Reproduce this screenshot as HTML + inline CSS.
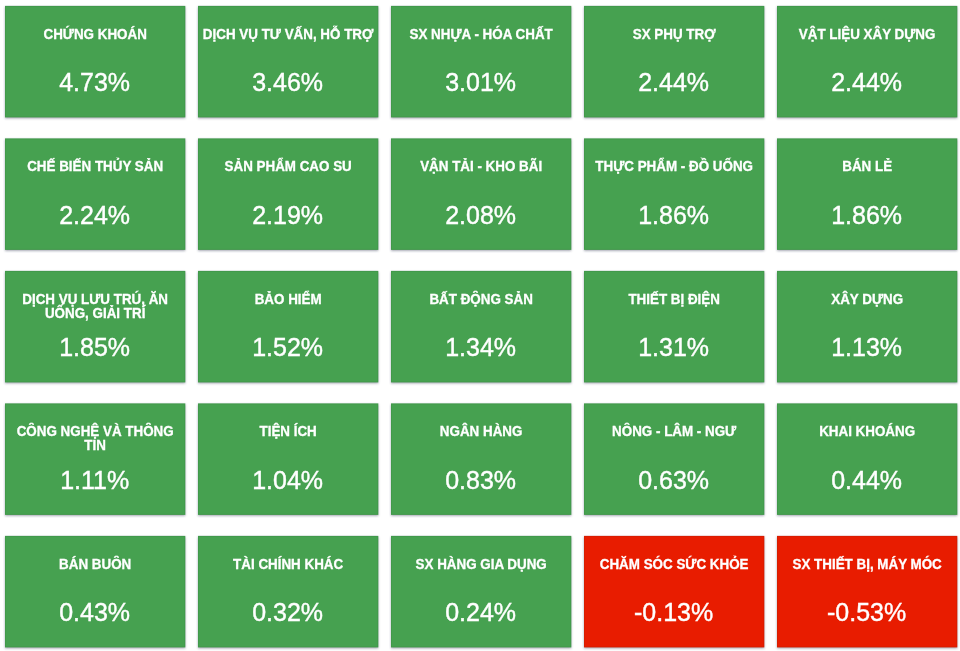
<!DOCTYPE html>
<html lang="vi"><head><meta charset="utf-8"><title>Biến động ngành</title>
<style>
html,body{margin:0;padding:0;background:#fff;}
body{width:960px;height:651px;position:relative;overflow:hidden;font-family:"Liberation Sans",sans-serif;color:#fff;}
#bg{position:absolute;left:0;top:0;width:960px;height:651px;display:block;}
.c{position:absolute;width:180.3px;height:111.5px;text-align:center;}
.t{will-change:transform;position:absolute;left:0;right:0;top:21.8px;font-weight:bold;font-size:13.4px;line-height:13.5px;white-space:nowrap;-webkit-text-stroke:.3px #fff;transform:scaleY(1.03);transform-origin:50% 12px;}
.v{will-change:transform;position:absolute;left:0;right:1px;top:62.6px;font-size:25px;line-height:28px;white-space:nowrap;-webkit-text-stroke:.4px #fff;transform:scaleY(1.06);transform-origin:50% 23px;}
</style></head><body>
<svg id="bg" width="960" height="651" viewBox="0 0 960 651">
<defs><filter id="s" x="0" y="0" width="960" height="651" filterUnits="userSpaceOnUse"><feGaussianBlur stdDeviation="1.3"/></filter></defs>
<g filter="url(#s)" fill="#373c5a" fill-opacity=".46">
<rect x="5.00" y="6.90" width="180.30" height="111.50"/>
<rect x="198.00" y="6.90" width="180.30" height="111.50"/>
<rect x="391.00" y="6.90" width="180.30" height="111.50"/>
<rect x="584.00" y="6.90" width="180.30" height="111.50"/>
<rect x="777.00" y="6.90" width="180.30" height="111.50"/>
<rect x="5.00" y="139.40" width="180.30" height="111.50"/>
<rect x="198.00" y="139.40" width="180.30" height="111.50"/>
<rect x="391.00" y="139.40" width="180.30" height="111.50"/>
<rect x="584.00" y="139.40" width="180.30" height="111.50"/>
<rect x="777.00" y="139.40" width="180.30" height="111.50"/>
<rect x="5.00" y="271.90" width="180.30" height="111.50"/>
<rect x="198.00" y="271.90" width="180.30" height="111.50"/>
<rect x="391.00" y="271.90" width="180.30" height="111.50"/>
<rect x="584.00" y="271.90" width="180.30" height="111.50"/>
<rect x="777.00" y="271.90" width="180.30" height="111.50"/>
<rect x="5.00" y="404.40" width="180.30" height="111.50"/>
<rect x="198.00" y="404.40" width="180.30" height="111.50"/>
<rect x="391.00" y="404.40" width="180.30" height="111.50"/>
<rect x="584.00" y="404.40" width="180.30" height="111.50"/>
<rect x="777.00" y="404.40" width="180.30" height="111.50"/>
<rect x="5.00" y="536.90" width="180.30" height="111.50"/>
<rect x="198.00" y="536.90" width="180.30" height="111.50"/>
<rect x="391.00" y="536.90" width="180.30" height="111.50"/>
<rect x="584.00" y="536.90" width="180.30" height="111.50"/>
<rect x="777.00" y="536.90" width="180.30" height="111.50"/>
</g>
<g fill="#46a150">
<rect x="5.00" y="5.90" width="180.30" height="111.50"/>
<rect x="198.00" y="5.90" width="180.30" height="111.50"/>
<rect x="391.00" y="5.90" width="180.30" height="111.50"/>
<rect x="584.00" y="5.90" width="180.30" height="111.50"/>
<rect x="777.00" y="5.90" width="180.30" height="111.50"/>
<rect x="5.00" y="138.40" width="180.30" height="111.50"/>
<rect x="198.00" y="138.40" width="180.30" height="111.50"/>
<rect x="391.00" y="138.40" width="180.30" height="111.50"/>
<rect x="584.00" y="138.40" width="180.30" height="111.50"/>
<rect x="777.00" y="138.40" width="180.30" height="111.50"/>
<rect x="5.00" y="270.90" width="180.30" height="111.50"/>
<rect x="198.00" y="270.90" width="180.30" height="111.50"/>
<rect x="391.00" y="270.90" width="180.30" height="111.50"/>
<rect x="584.00" y="270.90" width="180.30" height="111.50"/>
<rect x="777.00" y="270.90" width="180.30" height="111.50"/>
<rect x="5.00" y="403.40" width="180.30" height="111.50"/>
<rect x="198.00" y="403.40" width="180.30" height="111.50"/>
<rect x="391.00" y="403.40" width="180.30" height="111.50"/>
<rect x="584.00" y="403.40" width="180.30" height="111.50"/>
<rect x="777.00" y="403.40" width="180.30" height="111.50"/>
<rect x="5.00" y="535.90" width="180.30" height="111.50"/>
<rect x="198.00" y="535.90" width="180.30" height="111.50"/>
<rect x="391.00" y="535.90" width="180.30" height="111.50"/>
</g>
<g fill="#e81c00">
<rect x="584.00" y="535.90" width="180.30" height="111.50"/>
<rect x="777.00" y="535.90" width="180.30" height="111.50"/>
</g>
<g fill="none" stroke="#003200" stroke-opacity=".07" stroke-width="1">
<rect x="5.50" y="6.40" width="179.30" height="110.50"/>
<rect x="198.50" y="6.40" width="179.30" height="110.50"/>
<rect x="391.50" y="6.40" width="179.30" height="110.50"/>
<rect x="584.50" y="6.40" width="179.30" height="110.50"/>
<rect x="777.50" y="6.40" width="179.30" height="110.50"/>
<rect x="5.50" y="138.90" width="179.30" height="110.50"/>
<rect x="198.50" y="138.90" width="179.30" height="110.50"/>
<rect x="391.50" y="138.90" width="179.30" height="110.50"/>
<rect x="584.50" y="138.90" width="179.30" height="110.50"/>
<rect x="777.50" y="138.90" width="179.30" height="110.50"/>
<rect x="5.50" y="271.40" width="179.30" height="110.50"/>
<rect x="198.50" y="271.40" width="179.30" height="110.50"/>
<rect x="391.50" y="271.40" width="179.30" height="110.50"/>
<rect x="584.50" y="271.40" width="179.30" height="110.50"/>
<rect x="777.50" y="271.40" width="179.30" height="110.50"/>
<rect x="5.50" y="403.90" width="179.30" height="110.50"/>
<rect x="198.50" y="403.90" width="179.30" height="110.50"/>
<rect x="391.50" y="403.90" width="179.30" height="110.50"/>
<rect x="584.50" y="403.90" width="179.30" height="110.50"/>
<rect x="777.50" y="403.90" width="179.30" height="110.50"/>
<rect x="5.50" y="536.40" width="179.30" height="110.50"/>
<rect x="198.50" y="536.40" width="179.30" height="110.50"/>
<rect x="391.50" y="536.40" width="179.30" height="110.50"/>
<rect x="584.50" y="536.40" width="179.30" height="110.50"/>
<rect x="777.50" y="536.40" width="179.30" height="110.50"/>
</g>
</svg>
<div class="c" style="left:5.00px;top:5.90px"><div class="t">CHỨNG KHOÁN</div><div class="v">4.73%</div></div>
<div class="c" style="left:198.00px;top:5.90px"><div class="t">DỊCH VỤ TƯ VẤN, HỖ TRỢ</div><div class="v">3.46%</div></div>
<div class="c" style="left:391.00px;top:5.90px"><div class="t">SX NHỰA - HÓA CHẤT</div><div class="v">3.01%</div></div>
<div class="c" style="left:584.00px;top:5.90px"><div class="t">SX PHỤ TRỢ</div><div class="v">2.44%</div></div>
<div class="c" style="left:777.00px;top:5.90px"><div class="t">VẬT LIỆU XÂY DỰNG</div><div class="v">2.44%</div></div>
<div class="c" style="left:5.00px;top:138.40px"><div class="t">CHẾ BIẾN THỦY SẢN</div><div class="v">2.24%</div></div>
<div class="c" style="left:198.00px;top:138.40px"><div class="t">SẢN PHẨM CAO SU</div><div class="v">2.19%</div></div>
<div class="c" style="left:391.00px;top:138.40px"><div class="t">VẬN TẢI - KHO BÃI</div><div class="v">2.08%</div></div>
<div class="c" style="left:584.00px;top:138.40px"><div class="t">THỰC PHẨM - ĐỒ UỐNG</div><div class="v">1.86%</div></div>
<div class="c" style="left:777.00px;top:138.40px"><div class="t">BÁN LẺ</div><div class="v">1.86%</div></div>
<div class="c" style="left:5.00px;top:270.90px"><div class="t">DỊCH VỤ LƯU TRÚ, ĂN<br>UỐNG, GIẢI TRÍ</div><div class="v">1.85%</div></div>
<div class="c" style="left:198.00px;top:270.90px"><div class="t">BẢO HIỂM</div><div class="v">1.52%</div></div>
<div class="c" style="left:391.00px;top:270.90px"><div class="t">BẤT ĐỘNG SẢN</div><div class="v">1.34%</div></div>
<div class="c" style="left:584.00px;top:270.90px"><div class="t">THIẾT BỊ ĐIỆN</div><div class="v">1.31%</div></div>
<div class="c" style="left:777.00px;top:270.90px"><div class="t">XÂY DỰNG</div><div class="v">1.13%</div></div>
<div class="c" style="left:5.00px;top:403.40px"><div class="t">CÔNG NGHỆ VÀ THÔNG<br>TIN</div><div class="v">1.11%</div></div>
<div class="c" style="left:198.00px;top:403.40px"><div class="t">TIỆN ÍCH</div><div class="v">1.04%</div></div>
<div class="c" style="left:391.00px;top:403.40px"><div class="t">NGÂN HÀNG</div><div class="v">0.83%</div></div>
<div class="c" style="left:584.00px;top:403.40px"><div class="t">NÔNG - LÂM - NGƯ</div><div class="v">0.63%</div></div>
<div class="c" style="left:777.00px;top:403.40px"><div class="t">KHAI KHOÁNG</div><div class="v">0.44%</div></div>
<div class="c" style="left:5.00px;top:535.90px"><div class="t">BÁN BUÔN</div><div class="v">0.43%</div></div>
<div class="c" style="left:198.00px;top:535.90px"><div class="t">TÀI CHÍNH KHÁC</div><div class="v">0.32%</div></div>
<div class="c" style="left:391.00px;top:535.90px"><div class="t">SX HÀNG GIA DỤNG</div><div class="v">0.24%</div></div>
<div class="c" style="left:584.00px;top:535.90px"><div class="t">CHĂM SÓC SỨC KHỎE</div><div class="v">-0.13%</div></div>
<div class="c" style="left:777.00px;top:535.90px"><div class="t">SX THIẾT BỊ, MÁY MÓC</div><div class="v">-0.53%</div></div>
</body></html>
